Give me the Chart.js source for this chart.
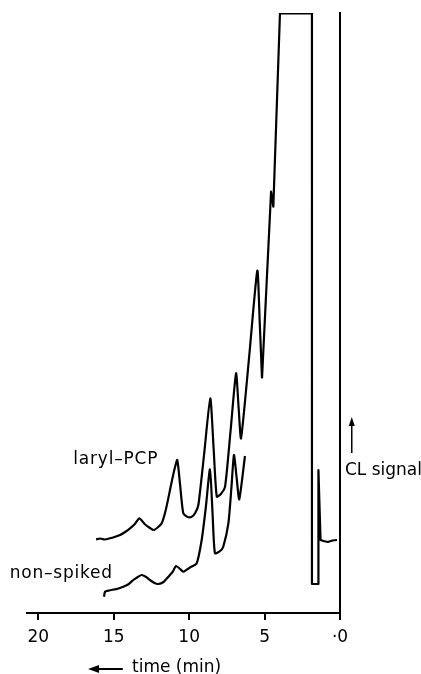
<!DOCTYPE html>
<html>
<head>
<meta charset="utf-8">
<script src="https://cdn.jsdelivr.net/npm/chart.js@4/dist/chart.umd.min.js"></script>
<style>
  html, body { margin: 0; padding: 0; background: #fff; }
  #wrap { width: 421px; height: 674px; }
</style>
</head>
<body>
<div id="wrap"><canvas id="chromatogram"></canvas></div>
<script>
// retention time (min) and CL signal (arbitrary units)
const spikedTime = [16.17, 15.9, 15.6, 15.25, 14.95, 14.58, 14.25, 13.92, 13.6, 13.30, 12.95, 12.6, 12.33, 12.05, 11.82, 11.55, 11.27, 11.0, 10.79, 10.6, 10.39, 10.1, 9.83, 9.6, 9.39, 9.0, 8.60, 8.38, 8.17, 7.9, 7.62, 7.25, 6.89, 6.72, 6.56, 6.0, 5.48, 5.32, 5.17];
const spikedSignal = [73.7, 74.5, 73.5, 74.7, 76, 78, 81, 84.7, 89, 94.7, 89, 85, 83, 86, 89.7, 103, 123, 142, 153, 128, 99.7, 96, 96.3, 100, 108, 160, 214.7, 165, 116.3, 119, 126.3, 183, 239.7, 205, 174.7, 260, 342.3, 290, 234.7];
// solvent front: runs off scale, then recorder baseline
const frontTime = [5.17, 4.57, 4.42, 3.98, 1.86, 1.86, 1.43, 1.43, 1.29, 1.1, 0.8, 0.5, 0.2];
const frontSignal = [234.7, 421.3, 406.3, 599.5, 599.5, 29, 29, 143, 73, 72, 71, 72.5, 73];

const blankTime = [15.64, 15.58, 15.3, 15.0, 14.80, 14.37, 14.0, 13.70, 13.4, 13.15, 12.85, 12.6, 12.3, 12.05, 11.7, 11.38, 11.1, 10.87, 10.6, 10.39, 9.9, 9.50, 9.17, 8.9, 8.62, 8.45, 8.29, 7.95, 7.74, 7.40, 7.2, 7.03, 6.85, 6.68, 6.30];
const blankSignal = [16.3, 21.3, 22.5, 23.5, 24, 26.3, 29, 33, 36, 38, 36, 33, 30, 29, 31, 36.3, 41, 47, 44, 41.3, 46, 49.7, 73, 105, 143.7, 100, 59.7, 62, 66.3, 89.7, 125, 158, 135, 113.7, 157];

const tickValues = [20, 15, 10, 5, 0];
const traceNames = ['laryl–PCP', 'non–spiked'];

function pts(xs, ys) {
  return xs.map((x, i) => ({ x: x, y: ys[i] }));
}

const notes = {
  id: 'notes',
  afterDraw(chart) {
    const ctx = chart.ctx;
    const x = chart.scales.x, y = chart.scales.y;
    ctx.save();
    ctx.fillStyle = '#000';
    ctx.strokeStyle = '#000';
    ctx.textBaseline = 'middle';

    // trace names
    ctx.font = '17px "DejaVu Sans", sans-serif';
    ctx.letterSpacing = '0.8px';
    ctx.textAlign = 'left';
    ctx.fillText(traceNames[0], x.getPixelForValue(17.68), y.getPixelForValue(153));
    ctx.fillText(traceNames[1], x.getPixelForValue(21.9), y.getPixelForValue(39));
    ctx.letterSpacing = '0px';

    // CL signal with arrow
    ctx.fillText('CL signal', x.getPixelForValue(-0.33), y.getPixelForValue(142));
    const ax = x.getPixelForValue(-0.78);
    const a0 = y.getPixelForValue(160), a1 = y.getPixelForValue(196);
    ctx.lineWidth = 1.5;
    ctx.beginPath();
    ctx.moveTo(ax, a0); ctx.lineTo(ax, a1 + 4); ctx.stroke();
    ctx.beginPath();
    ctx.moveTo(ax, a1); ctx.lineTo(ax - 3, a1 + 9); ctx.lineTo(ax + 3, a1 + 9); ctx.closePath(); ctx.fill();

    // time axis caption
    const ty = chart.chartArea.bottom + 55;
    ctx.fillText('time (min)', x.getPixelForValue(13.79), ty);
    const h0 = x.getPixelForValue(16.7), h1 = x.getPixelForValue(14.4);
    ctx.lineWidth = 2;
    ctx.beginPath();
    ctx.moveTo(h0 + 4, ty + 1); ctx.lineTo(h1, ty + 1); ctx.stroke();
    ctx.beginPath();
    ctx.moveTo(h0, ty + 1); ctx.lineTo(h0 + 11, ty - 3); ctx.lineTo(h0 + 11, ty + 5); ctx.closePath(); ctx.fill();
    ctx.restore();
  }
};

const trace = { borderColor: '#000', borderWidth: 2.2, pointRadius: 0, fill: false, borderJoinStyle: 'round' };

new Chart(document.getElementById('chromatogram'), {
  type: 'line',
  data: {
    datasets: [
      Object.assign({ label: traceNames[0], data: pts(spikedTime, spikedSignal), tension: 0.2 }, trace),
      Object.assign({ label: traceNames[0] + ' front', data: pts(frontTime, frontSignal), tension: 0 }, trace),
      Object.assign({ label: traceNames[1], data: pts(blankTime, blankSignal), tension: 0.2 }, trace)
    ]
  },
  options: {
    responsive: true,
    maintainAspectRatio: false,
    animation: false,
    layout: { padding: { left: 27, right: 81, top: 13, bottom: 0 } },
    plugins: { legend: { display: false }, tooltip: { enabled: false } },
    scales: {
      x: {
        type: 'linear',
        reverse: true,
        min: 0,
        max: 20.75,
        afterFit(s) { s.height = 61; },
        afterBuildTicks(s) { s.ticks = tickValues.map(v => ({ value: v })); },
        ticks: {
          color: '#000',
          font: { family: '"DejaVu Sans", sans-serif', size: 17 },
          padding: 7,
          maxRotation: 0,
          callback: v => v === 0 ? '·0' : String(v)
        },
        grid: { drawOnChartArea: false, drawTicks: true, tickLength: 7, color: '#000', lineWidth: 2 },
        border: { color: '#000', width: 2 }
      },
      y: {
        position: 'right',
        min: 0,
        max: 600,
        afterFit(s) { s.width = 0; },
        ticks: { display: false },
        grid: { drawOnChartArea: false, drawTicks: false },
        border: { color: '#000', width: 2 }
      }
    }
  },
  plugins: [notes]
});
</script>
</body>
</html>
